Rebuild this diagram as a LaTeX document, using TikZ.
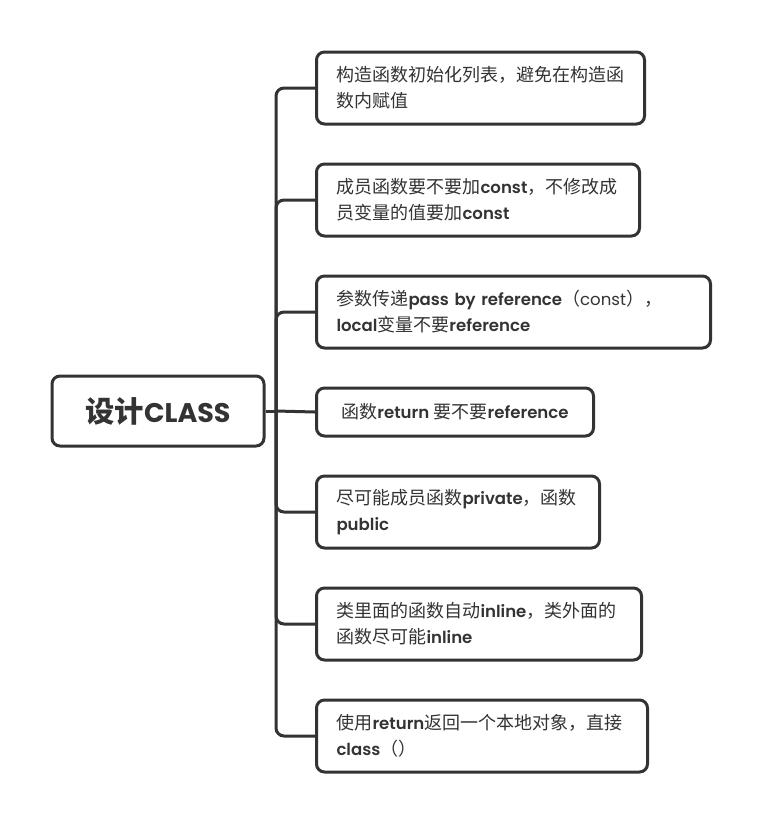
\documentclass[tikz,border=0pt]{standalone}
\usepackage{fontspec}
\setmainfont{Poppins}[Scale=0.92, BoldFont={Poppins SemiBold}]
\newfontfamily\rootlat{Poppins Bold}[Scale=0.92]
\newfontfamily\cjk{Noto Sans CJK SC}
\newcommand\zh[1]{{\cjk #1}}
\definecolor{ink}{HTML}{333333}
\tikzset{
  box/.style={draw=ink, line width=2.25pt, rounded corners=6pt, anchor=west, align=left,
    inner xsep=15pt, inner ysep=0pt, minimum height=54pt, text=ink,
    font=\fontsize{13.5}{19.5}\selectfont},
  conn/.style={draw=ink, line width=2.25pt, rounded corners=6pt}
}
\begin{document}
\begin{tikzpicture}[x=0.75pt, y=-0.75pt]
\useasboundingbox (0,0) rectangle (759,822);
\node[draw=ink, line width=2.25pt, rounded corners=6pt, minimum width=159pt, minimum height=52.5pt,
  text=ink, font=\fontsize{22}{24}\selectfont] (root) at (158,411) {\zh{\bfseries 设计}{\rootlat CLASS}};
\coordinate (hub) at (276,411);
\node[box, text width=216pt] (c1) at (315,88) {\zh{构造函数初始化列表，避免在构造函}\\\zh{数内赋值}};
\node[box, text width=212.25pt] (c2) at (315,200) {\zh{成员函数要不要加}\textbf{const}\zh{，不修改成}\\\zh{员变量的值要加}\textbf{const}};
\node[box, text width=265.5pt] (c3) at (315,312) {\zh{参数传递}\textbf{pass by reference}\zh{（}const\zh{），}\\\textbf{local}\zh{变量不要}\textbf{reference}};
\node[box, minimum width=207.75pt, minimum height=36pt] (c4) at (315,412) {\zh{函数}\textbf{return} \zh{要不要}\textbf{reference}};
\node[box, text width=182.25pt] (c5) at (315,512) {\zh{尽可能成员函数}\textbf{private}\zh{，函数}\\\textbf{public}};
\node[box, text width=213.75pt] (c6) at (315,624) {\zh{类里面的函数自动}\textbf{inline}\zh{，类外面的}\\\zh{函数尽可能}\textbf{inline}};
\node[box, text width=218.25pt] (c7) at (315,736) {\zh{使用}\textbf{return}\zh{返回一个本地对象，直接}\\\textbf{class}\zh{（）}};
\draw[conn] (root.east) -- (hub);
\foreach \c in {c1,c2,c3,c5,c6,c7} {\draw[conn] (hub) |- (\c.west);}
\draw[conn] (hub) -- (c4.west);
\end{tikzpicture}
\end{document}
